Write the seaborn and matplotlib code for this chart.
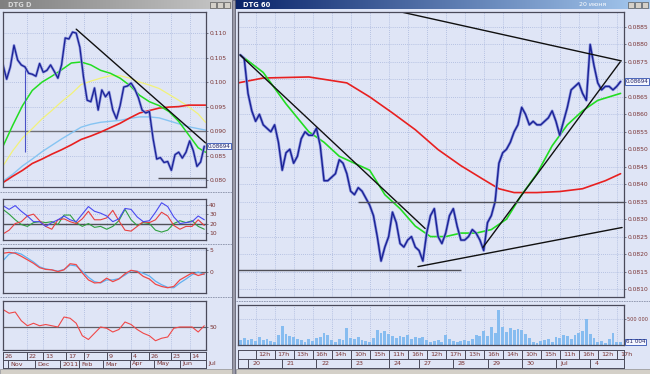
import numpy as np
import matplotlib
matplotlib.use("Agg")
import matplotlib.pyplot as plt
from matplotlib.patches import Rectangle
from matplotlib.colors import LinearSegmentedColormap
import seaborn as sns

sns.set_style("white")
plt.rcParams['font.family'] = ['DejaVu Sans']

# ---------- right window: DTG, 60 min bars ----------
# closes, one per hourly bar, first bar is index -2
r_close = [0.0877, 0.0876, 0.0866, 0.0861, 0.0858, 0.0860, 0.0857, 0.0856, 0.0855, 0.0857,
           0.0852, 0.0844, 0.0849, 0.0850, 0.0846, 0.0848, 0.0853, 0.0855, 0.0854, 0.0854,
           0.0856, 0.0851, 0.0841, 0.0841, 0.0842, 0.0843, 0.0847, 0.0846, 0.0843, 0.0838,
           0.0837, 0.0839, 0.0838, 0.0836, 0.0834, 0.0831, 0.0825, 0.0818, 0.0822, 0.0825,
           0.0832, 0.0829, 0.0823, 0.0822, 0.0824, 0.0825, 0.0822, 0.0821, 0.0818, 0.0826,
           0.0831, 0.0833, 0.0825, 0.0823, 0.0826, 0.0831, 0.0833, 0.0828, 0.0824, 0.0824,
           0.0825, 0.0827, 0.0826, 0.0824, 0.0821, 0.0829, 0.0831, 0.0835, 0.0846, 0.0849,
           0.0850, 0.0852, 0.0855, 0.0857, 0.0862, 0.0860, 0.0857, 0.0858, 0.0857, 0.0857,
           0.0858, 0.0859, 0.0861, 0.0858, 0.0854, 0.0858, 0.0862, 0.0867, 0.0868, 0.0869,
           0.0866, 0.0864, 0.0880, 0.0874, 0.0869, 0.0867, 0.0868, 0.0868, 0.0867, 0.0868,
           0.08694]
# volume in thousands
r_volume = [90, 130, 100, 120, 80, 150, 90, 110, 70, 60,
            200, 360, 220, 180, 150, 120, 90, 60, 110, 80,
            130, 160, 230, 190, 90, 60, 110, 100, 330, 140,
            120, 150, 90, 70, 60, 130, 280, 230, 260, 210,
            180, 140, 170, 150, 200, 120, 160, 130, 150, 90,
            60, 70, 90, 50, 200, 110, 80, 60, 70, 90,
            80, 110, 200, 170, 260, 180, 350, 230, 670, 340,
            250, 330, 280, 300, 280, 220, 130, 60, 40, 70,
            90, 110, 60, 160, 130, 190, 170, 110, 200, 230,
            260, 500, 210, 140, 60, 70, 40, 110, 240, 60,
            61]
r_fast_h = [-2, 4, 10, 16, 20, 24, 28, 32, 36, 40, 44, 48, 52, 56, 60, 64, 68, 72, 76, 80, 84, 88, 92, 98]
r_fast = [0.0877, 0.0872, 0.0863, 0.0855, 0.0852, 0.0848, 0.0846, 0.0844, 0.0837, 0.0833, 0.0828, 0.0825,
          0.0825, 0.0826, 0.0826, 0.0827, 0.0830, 0.0837, 0.0843, 0.0851, 0.0857, 0.0861, 0.0864, 0.0866]
r_slow_h = [-2.6, 4, 16, 26, 32, 38, 44, 50, 56, 62, 66, 70, 76, 82, 88, 94, 98]
r_slow = [0.0869, 0.08704, 0.08707, 0.0869, 0.0865, 0.08604, 0.08556, 0.08499, 0.08453,
          0.08413, 0.08387, 0.08376, 0.08376, 0.08379, 0.08387, 0.0841, 0.0843]
r_trend_h = [(40.3, 98.2), (-2.1, 46.6), (44.7, 98.4), (61.8, 97.9)]
r_trend_p = [(0.08893, 0.08753), (0.0877, 0.08273), (0.08164, 0.08276), (0.08219, 0.0875)]
r_level_h = [(29, 99), (-2.6, 56)]
r_level_p = [0.0835, 0.08153]
r_day_starts = [0, 9, 18, 27, 37, 45, 54, 63, 72, 81, 90]
r_day_labels = ["20", "21", "22", "23", "24", "27", "28", "29", "30", "Jul", "4"]
r_hour_labels = ["12h", "17h", "13h", "16h", "14h", "10h", "15h", "11h", "16h", "12h",
                 "17h", "13h", "16h", "14h", "10h", "15h", "11h", "16h", "12h", "17h"]
r_last = 0.08694
r_last_vol = "61 004"

# ---------- left window: DTG, daily bars (every 3rd session) ----------
l_close = [0.1035, 0.1006, 0.1031, 0.1075, 0.1045, 0.1035, 0.1031, 0.1018, 0.1016, 0.1012,
           0.1038, 0.1020, 0.1024, 0.1035, 0.1022, 0.1008, 0.1035, 0.1090, 0.1088, 0.1102,
           0.1100, 0.1071, 0.1010, 0.0963, 0.0960, 0.0988, 0.0943, 0.0984, 0.0970, 0.0980,
           0.0943, 0.0925, 0.0952, 0.0990, 0.0992, 0.0998, 0.0986, 0.0968, 0.0943, 0.0937,
           0.0940, 0.0885, 0.0843, 0.0846, 0.0836, 0.0838, 0.0820, 0.0852, 0.0857, 0.0845,
           0.0857, 0.0880, 0.0860, 0.0828, 0.0837, 0.0869]
l_spike_day = [18]
l_spike_lo = [0.0857]
l_spike_hi = [0.1031]
l_ma_days = [0, 8, 16, 24, 32, 40, 48, 56, 64, 72, 80, 88, 96, 104, 112, 120, 128, 136, 144, 152, 160, 166]
l_ma_green = [0.0869, 0.0912, 0.0952, 0.0983, 0.1000, 0.1012, 0.1025, 0.1039, 0.1041, 0.1035, 0.1024,
              0.1018, 0.1008, 0.0993, 0.0973, 0.0960, 0.0952, 0.0940, 0.0920, 0.0893, 0.0866, 0.0857]
l_ma_yellow = [0.0829, 0.0860, 0.0886, 0.0905, 0.0925, 0.0942, 0.0960, 0.0976, 0.0995, 0.1002, 0.1008,
               0.1013, 0.1013, 0.1008, 0.1000, 0.0994, 0.0987, 0.0975, 0.0963, 0.0950, 0.0935, 0.0918]
l_ma_blue = [0.0798, 0.0812, 0.0829, 0.0843, 0.0858, 0.0871, 0.0884, 0.0896, 0.0908, 0.0914, 0.0918,
             0.0920, 0.0922, 0.0926, 0.0929, 0.0929, 0.0927, 0.0921, 0.0915, 0.0909, 0.0905, 0.0902]
l_ma_red = [0.0795, 0.0808, 0.0820, 0.0834, 0.0843, 0.0853, 0.0862, 0.0872, 0.0883, 0.0890, 0.0898,
            0.0907, 0.0916, 0.0927, 0.0937, 0.0942, 0.0947, 0.0949, 0.0950, 0.0953, 0.0953, 0.0953]
l_trend_d = (60, 166)
l_trend_p = (0.1108, 0.0876)
l_floor_d = (127, 166)
l_floor_p = 0.0805
l_last = 0.08694

# oscillators, every 5th session
l_dmi_plus = [39, 35, 39, 33, 28, 22, 22, 17, 21, 24, 28, 24, 22, 30, 38, 33, 31,
              28, 22, 25, 36, 35, 27, 22, 23, 32, 42, 38, 27, 20, 21, 22, 28, 24]
l_dmi_minus = [9, 13, 20, 22, 28, 30, 23, 17, 14, 24, 25, 22, 20, 25, 33, 24, 24,
               26, 34, 23, 13, 12, 17, 22, 21, 24, 32, 28, 18, 14, 17, 17, 24, 18]
l_adx = [35, 30, 24, 19, 17, 21, 22, 21, 22, 19, 29, 29, 21, 17, 20, 16, 17,
         14, 17, 23, 35, 24, 18, 21, 20, 13, 11, 13, 20, 23, 21, 23, 17, 14]
l_macd = [4.3, 4.5, 4.3, 3.6, 2.8, 2.0, 1.0, 0.6, 0.5, 0.1, 0.5, 1.9, 1.7, -0.2, -1.8, -2.5, -2.4,
          -1.4, -2.2, -1.6, -0.4, 0.4, 0.1, -1.0, -1.6, -2.8, -3.3, -3.6, -3.3, -1.8, -1.0, -0.2, -0.8, -0.4]
l_signal = [2.6, 4.1, 4.5, 4.1, 3.2, 2.3, 1.2, 0.7, 0.5, 0.2, 0.6, 1.6, 1.4, 0.2, -1.2, -2.2, -2.5,
            -1.8, -1.8, -1.5, -0.7, 0.3, 0.2, -0.3, -0.9, -2.1, -2.9, -3.5, -3.6, -2.5, -1.6, -0.6, 0.0, -0.6]
l_rsi = [64, 61, 62, 55, 51, 53, 51, 52, 51, 50, 58, 57, 53, 43, 40, 45, 50,
         49, 46, 48, 54, 52, 48, 45, 43, 39, 41, 42, 49, 50, 50, 50, 46, 51]
l_week_pos = [0, 20, 33, 52, 66, 85, 105, 120, 138, 153]
l_week_labels = ["26", "22", "13", "17", "7", "9", "4", "26", "23", "14"]
l_month_pos = [4, 26, 47, 62, 82, 104, 124, 145, 166]
l_month_labels = ["Nov", "Dec", "2011", "Feb", "Mar", "Apr", "May", "Jun", "Jul"]

r_hours = np.arange(-2, -2 + len(r_close))
l_days = np.arange(len(l_close)) * 3
l_osc_days = np.arange(len(l_rsi)) * 5

W, H = 650, 374
BG = '#dfe5f6'
GRID = '#a8b6dc'
FRAME = '#4a4a5a'
TXT = '#7a3434'
BAR = '#1a2296'
HALO = '#8a92dc'

fig = plt.figure(figsize=(6.5, 3.74), dpi=100, facecolor=BG)


def add_ax(x0, y0, x1, y1):
    return fig.add_axes([x0 / W, 1 - y1 / H, (x1 - x0) / W, (y1 - y0) / H])


def style(ax, xlim, ylim, yticks, ylabels, xgrid, fs=4.3):
    ax.set_facecolor(BG)
    ax.set_xlim(xlim)
    ax.set_ylim(ylim)
    ax.yaxis.tick_right()
    ax.set_yticks(yticks)
    ax.set_yticklabels(ylabels, fontsize=fs)
    ax.tick_params(axis='y', length=1.5, width=0.5, pad=0.8, colors=FRAME, labelcolor=TXT)
    ax.set_xticks(xgrid)
    ax.tick_params(axis='x', length=0, labelbottom=False)
    ax.grid(True, color=GRID, lw=0.6, ls=(0, (1, 1.5)))
    ax.set_axisbelow(True)
    for s in ax.spines.values():
        s.set_color(FRAME)
        s.set_linewidth(0.9)
    ax.set_xlabel('')
    ax.set_ylabel('')


def tag(ax, y, text):
    ax.annotate(text, xy=(1, y), xycoords=('axes fraction', 'data'), xytext=(1.2, 0),
                textcoords='offset points', fontsize=4.1, color='#202060', va='center', ha='left',
                bbox=dict(boxstyle='square,pad=0.12', fc='#f4f6ff', ec='#3050b0', lw=0.6),
                annotation_clip=False)


def line(ax, x, y, color, lw):
    sns.lineplot(x=x, y=y, ax=ax, color=color, linewidth=lw, legend=False)


def date_rows(ax, xlim, pos1, lab1, pos2, lab2):
    ax.set_xlim(xlim)
    ax.set_ylim(0, 2)
    ax.set_facecolor(BG)
    ax.set_xticks([])
    ax.set_yticks([])
    for s in ax.spines.values():
        s.set_color(FRAME)
        s.set_linewidth(0.7)
    ax.axhline(1, color=FRAME, lw=0.7)
    ax.vlines(pos1, 1, 2, color=FRAME, lw=0.7, clip_on=False)
    ax.vlines(pos2, 0, 1, color=FRAME, lw=0.7, clip_on=False)
    span = xlim[1] - xlim[0]
    for p, t in zip(pos1, lab1):
        ax.text(p + span * 0.008, 1.5, t, fontsize=4.6, color=TXT, va='center', clip_on=False)
    for p, t in zip(pos2, lab2):
        ax.text(p + span * 0.012, 0.5, t, fontsize=4.6, color=TXT, va='center', clip_on=False)


# ---------- right window ----------
r_xlim = (-2.63, 98.9)
r_grid = [2 + 5 * i for i in range(len(r_hour_labels))]

ax = add_ax(238, 12, 624, 297)
line(ax, r_slow_h, r_slow, '#e82020', 1.2)
line(ax, r_fast_h, r_fast, '#22dd22', 1.2)
line(ax, r_hours, r_close, HALO, 2.0)
line(ax, r_hours, r_close, BAR, 1.0)
for (h0, h1), (p0, p1) in zip(r_trend_h, r_trend_p):
    line(ax, [h0, h1], [p0, p1], '#101010', 1.0)
for (h0, h1), p in zip(r_level_h, r_level_p):
    ax.hlines(p, h0, h1, color='#505058', lw=1.0)
r_ticks = [0.0810 + 0.0005 * i for i in range(16)]
r_tlabels = ['' if abs(v - 0.0870) < 1e-6 else f"{v:.4f}" for v in r_ticks]
style(ax, r_xlim, (0.08077, 0.08893), r_ticks, r_tlabels, r_grid)
tag(ax, r_last, f"{r_last:.5f}")

ax = add_ax(238, 305, 624, 345)
ax.bar(r_hours, r_volume, width=0.75, color='#86bcf0', edgecolor='none')
style(ax, r_xlim, (0, 770), [500], ["500 000"], r_grid, fs=3.6)
tag(ax, r_volume[-1], r_last_vol)

ax = add_ax(238, 350, 624, 368)
date_rows(ax, r_xlim, r_grid, r_hour_labels, r_day_starts, r_day_labels)

# ---------- left window ----------
l_xlim = (0, 166.4)
l_grid = l_week_pos

ax = add_ax(3, 12, 206, 187)
ax.axhline(0.090, color='#707078', lw=1.0)
line(ax, l_ma_days, l_ma_yellow, '#f2f27a', 0.9)
line(ax, l_ma_days, l_ma_blue, '#86c4f2', 1.0)
line(ax, l_ma_days, l_ma_red, '#e82020', 1.2)
line(ax, l_ma_days, l_ma_green, '#22dd22', 1.1)
ax.vlines(l_spike_day, l_spike_lo, l_spike_hi, color='#4a52c8', lw=0.8)
line(ax, l_days, l_close, HALO, 1.9)
line(ax, l_days, l_close, BAR, 0.9)
line(ax, list(l_trend_d), list(l_trend_p), '#101010', 1.0)
ax.hlines(l_floor_p, l_floor_d[0], l_floor_d[1], color='#505058', lw=1.0)
l_ticks = [0.080 + 0.005 * i for i in range(7)]
style(ax, l_xlim, (0.0786, 0.1143), l_ticks, [f"{v:.3f}" for v in l_ticks], l_grid)
tag(ax, l_last, f"{l_last:.5f}")

ax = add_ax(3, 199, 206, 240)
ax.axhline(20, color='#505058', lw=1.0)
line(ax, l_osc_days, l_adx, '#30a040', 0.8)
line(ax, l_osc_days, l_dmi_minus, '#e84040', 0.8)
line(ax, l_osc_days, l_dmi_plus, '#4a4af0', 0.8)
style(ax, l_xlim, (2.6, 46), [10, 20, 30, 40], ["10", "20", "30", "40"], l_grid)

ax = add_ax(3, 248, 206, 293)
ax.axhline(0, color='#606068', lw=0.9)
line(ax, l_osc_days, l_signal, '#60b0f0', 0.9)
line(ax, l_osc_days, l_macd, '#f04848', 0.9)
style(ax, l_xlim, (-4.8, 5.5), [0, 5], ["0", "5"], l_grid)

ax = add_ax(3, 301, 206, 350)
ax.axhline(50, color='#606068', lw=0.9)
line(ax, l_osc_days, l_rsi, '#f04848', 0.8)
style(ax, l_xlim, (31.6, 70.8), [50], ["50"], l_grid)

ax = add_ax(3, 352, 206, 368)
date_rows(ax, l_xlim, l_week_pos, l_week_labels, l_month_pos, l_month_labels)

# ---------- window chrome ----------
for y in (192, 244, 297):
    fig.add_artist(plt.Line2D([0, 232 / W], [1 - y / H] * 2, color='#8890a8', lw=0.6,
                              ls=(0, (2, 1)), transform=fig.transFigure))
fig.add_artist(plt.Line2D([236 / W, 1], [1 - 301 / H] * 2, color='#8890a8', lw=0.6,
                          ls=(0, (2, 1)), transform=fig.transFigure))


def title_bar(x0, x1, c0, c1, label, lc):
    tax = add_ax(x0, 0, x1, 9)
    grad = np.linspace(0, 1, 256).reshape(1, -1)
    tax.imshow(grad, aspect='auto', cmap=LinearSegmentedColormap.from_list('tb', [c0, c1]),
               extent=(0, 1, 0, 1))
    tax.set_axis_off()
    tax.text(8 / (x1 - x0), 0.45, label, fontsize=4.8, color=lc, fontweight='bold',
             va='center', transform=tax.transAxes)
    for i in range(3):
        bx = x1 - 22 + i * 7
        fig.add_artist(Rectangle((bx / W, 1 - 8 / H), 6 / W, 6 / H, transform=fig.transFigure,
                                 fc='#d4d0c8', ec='#404040', lw=0.4))
    return tax


title_bar(0, 232, '#808080', '#c8c8c8', "DTG D", '#d8d8d8')
tb = title_bar(235, 650, '#0a246a', '#a6caf0', "DTG 60", 'white')
tb.text(0.83, 0.45, "20 июня", fontsize=4.5, color='white', va='center', transform=tb.transAxes)

fig.add_artist(Rectangle((232 / W, 0), 3.5 / W, 1, transform=fig.transFigure,
                         fc='#9a9aa8', ec='#505060', lw=0.5))
fig.add_artist(Rectangle((0, 0), 232 / W, 5 / H, transform=fig.transFigure,
                         fc='#d4d0c8', ec='#808080', lw=0.4))
fig.add_artist(Rectangle((236 / W, 0), 414 / W, 5 / H, transform=fig.transFigure,
                         fc='#d4d0c8', ec='#808080', lw=0.4))

fig.savefig('out.png', dpi=100, facecolor=BG)
